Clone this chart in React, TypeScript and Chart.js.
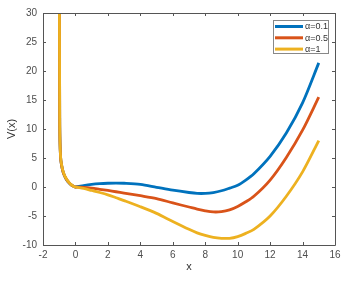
import React, { useEffect, useRef } from "react";
import { Chart, registerables } from "chart.js";
Chart.register(...registerables);

const xValues = [-0.99, -0.97, -0.95, -0.9, -0.8, -0.7, -0.6, -0.5, -0.4, -0.3, -0.2, -0.1, 0, 0.5, 1, 1.5, 2, 2.5, 3, 4, 5, 6, 7, 7.5, 8, 8.5, 9, 9.5, 10, 10.5, 11, 12, 13, 14, 15];
const blueValues = [35, 12, 7.5, 4.6, 3.0, 2.1, 1.5, 1.05, 0.72, 0.45, 0.25, 0.1, 0, 0.25, 0.45, 0.58, 0.65, 0.68, 0.65, 0.45, -0.05, -0.55, -0.95, -1.1, -1.1, -0.95, -0.65, -0.2, 0.3, 1.2, 2.3, 5.3, 9.3, 14.5, 21.4];
const orangeValues = [35, 12, 7.5, 4.6, 3.0, 2.1, 1.55, 1.1, 0.75, 0.47, 0.26, 0.1, 0, -0.05, -0.2, -0.4, -0.6, -0.82, -1.05, -1.5, -2.0, -2.75, -3.45, -3.8, -4.1, -4.3, -4.25, -3.95, -3.35, -2.55, -1.6, 1.2, 5.1, 9.8, 15.5];
const yellowValues = [35, 12, 7.5, 4.7, 3.1, 2.2, 1.6, 1.15, 0.8, 0.5, 0.28, 0.1, 0, -0.25, -0.6, -0.95, -1.35, -1.85, -2.35, -3.4, -4.55, -5.95, -7.3, -7.9, -8.35, -8.7, -8.85, -8.85, -8.55, -8.0, -7.3, -5.0, -1.6, 2.6, 8.0];
const seriesLabels = ["α=0.1", "α=0.5", "α=1"];
const seriesColors = ["#0072BD", "#D95319", "#EDB120"];
const xTicks = [-2, 0, 2, 4, 6, 8, 10, 12, 14, 16];
const yTicks = [-10, -5, 0, 5, 10, 15, 20, 25, 30];

const FONT = "'Liberation Sans', Arial, sans-serif";

const boxPlugin = {
  id: "matlabBox",
  afterDatasetsDraw(chart: any) {
    const { ctx, chartArea: a, scales } = chart;
    ctx.save();
    ctx.strokeStyle = "#555";
    ctx.lineWidth = 1;
    ctx.beginPath();
    ctx.rect(Math.round(a.left) + 0.5, Math.round(a.top) + 0.5, Math.round(a.right - a.left), Math.round(a.bottom - a.top));
    ctx.stroke();
    const tl = 3;
    ctx.beginPath();
    for (const v of xTicks) {
      const px = Math.round(scales.x.getPixelForValue(v)) + 0.5;
      ctx.moveTo(px, a.bottom);
      ctx.lineTo(px, a.bottom - tl);
      ctx.moveTo(px, a.top);
      ctx.lineTo(px, a.top + tl);
    }
    for (const v of yTicks) {
      const py = Math.round(scales.y.getPixelForValue(v)) + 0.5;
      ctx.moveTo(a.left, py);
      ctx.lineTo(a.left + tl, py);
      ctx.moveTo(a.right, py);
      ctx.lineTo(a.right - tl, py);
    }
    ctx.stroke();

    // legend
    const bx = 273.5, by = 20.5, bw = 55, bh = 33;
    ctx.fillStyle = "#fff";
    ctx.fillRect(bx, by, bw, bh);
    ctx.strokeStyle = "#888";
    ctx.lineWidth = 1;
    ctx.strokeRect(bx, by, bw, bh);
    ctx.font = `9px ${FONT}`;
    ctx.textBaseline = "middle";
    ctx.textAlign = "left";
    seriesLabels.forEach((lab, i) => {
      const y = 26.5 + i * 11.3;
      ctx.strokeStyle = seriesColors[i];
      ctx.lineWidth = 3;
      ctx.beginPath();
      ctx.moveTo(275, y);
      ctx.lineTo(303, y);
      ctx.stroke();
      ctx.fillStyle = "#333";
      ctx.fillText(lab, 305, y + 0.5);
    });
    ctx.restore();
  },
};

export default function App() {
  const ref = useRef<HTMLCanvasElement>(null);
  useEffect(() => {
    document.body.style.margin = "0";
    const mk = (vals: number[]) => xValues.map((x, i) => ({ x, y: vals[i] }));
    const data = [blueValues, orangeValues, yellowValues];
    const chart = new Chart(ref.current!, {
      type: "line",
      data: {
        datasets: data.map((vals, i) => ({
          label: seriesLabels[i],
          data: mk(vals),
          borderColor: seriesColors[i],
          backgroundColor: seriesColors[i],
          borderWidth: 2.8,
          pointRadius: 0,
          tension: 0.3,
          order: 3 - i,
        })),
      },
      options: {
        animation: false,
        responsive: false,
        maintainAspectRatio: false,
        layout: { padding: { top: 13, right: 14, left: 0, bottom: 0 } },
        plugins: { legend: { display: false }, tooltip: { enabled: false } },
        scales: {
          x: {
            type: "linear",
            min: -2,
            max: 16,
            afterFit: (s: any) => { s.height = 36; },
            afterBuildTicks: (s: any) => { s.ticks = xTicks.map((v) => ({ value: v })); },
            grid: { display: false, drawTicks: false },
            border: { display: false },
            ticks: { color: "#4d4d4d", font: { family: FONT, size: 10 }, padding: 4, maxRotation: 0 },
            title: { display: true, text: "x", color: "#333", font: { family: FONT, size: 11 }, padding: { top: 0, bottom: 7 } },
          },
          y: {
            type: "linear",
            min: -10,
            max: 30,
            afterFit: (s: any) => { s.width = 43; },
            afterBuildTicks: (s: any) => { s.ticks = yTicks.map((v) => ({ value: v })); },
            grid: { display: false, drawTicks: false },
            border: { display: false },
            ticks: { color: "#4d4d4d", font: { family: FONT, size: 10 }, padding: 6 },
            title: { display: true, text: "V(x)", color: "#333", font: { family: FONT, size: 11 }, padding: { top: 5, bottom: 0 } },
          },
        },
      },
      plugins: [boxPlugin],
    });
    return () => chart.destroy();
  }, []);
  return (
    <div style={{ width: 349, height: 281, background: "#fff" }}>
      <canvas ref={ref} width={349} height={281} style={{ width: 349, height: 281 }} />
    </div>
  );
}
